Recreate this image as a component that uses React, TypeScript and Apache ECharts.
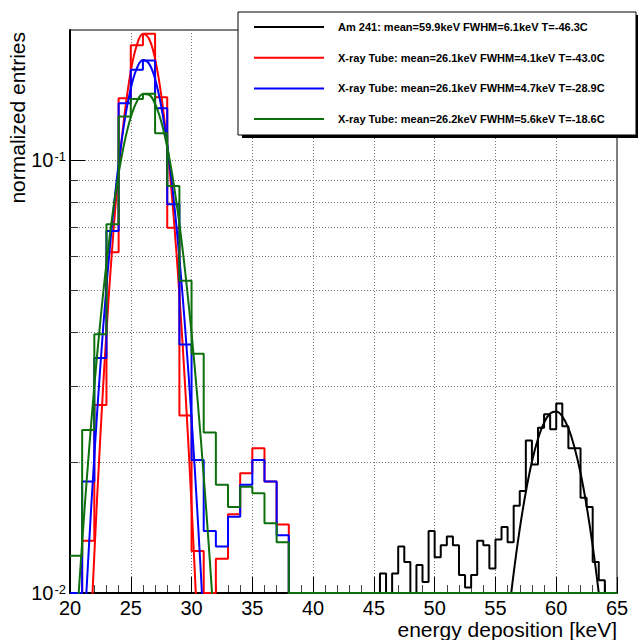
import React, { useEffect, useRef } from 'react';
import * as echarts from 'echarts';

const X_MIN = 20;
const X_MAX = 65;
const X_INTERVAL = 5;
const Y_MIN = 0.01;
const Y_MAX = 0.2;

// X-ray tube histograms: 1 keV bins starting at 20 keV (bins beyond listed values are empty)
const xrayBinStart = 20;
const xrayBinWidth = 1;
const redTube = [0, 0.0132, 0.0272, 0.0613, 0.1391, 0.1843, 0.1961, 0.1399, 0.0698, 0.0257, 0.0125, 0, 0.012, 0.0152, 0.0189, 0.0216, 0.0181, 0.0144];
const blueTube = [0, 0.0181, 0.0349, 0.0686, 0.1355, 0.1618, 0.1701, 0.1319, 0.0791, 0.0375, 0.0203, 0.0139, 0.0128, 0.015, 0.0178, 0.0203, 0.0181, 0.0136];
const greenTube = [0.0122, 0.0238, 0.0396, 0.0711, 0.1263, 0.1386, 0.1424, 0.1155, 0.0872, 0.0527, 0.0357, 0.0235, 0.0178, 0.0158, 0.0176, 0.017, 0.0145, 0.0131];

// Am 241 histogram: 0.5 keV bins starting at 45 keV
const amBinStart = 45;
const amBinWidth = 0.5;
const am241 = [0, 0.0111, 0, 0.0111, 0.0128, 0.0118, 0, 0.0116, 0.0106, 0.0139, 0.0121, 0.0129, 0.0135, 0.0129, 0.011, 0.0103, 0.011, 0.0132, 0.0129, 0.0114, 0.0133, 0.0142, 0.0131, 0.0159, 0.0172, 0.0225, 0.0198, 0.0241, 0.0259, 0.0239, 0.0274, 0.0243, 0.0216, 0.0216, 0.0166, 0.0158, 0.0118, 0.0107, 0];

// Fit curves sampled every 0.5 keV
const fitStep = 0.5;
const redFitStart = 21.5;
const redFit = [0.00597, 0.01225, 0.0231, 0.0402, 0.0643, 0.0947, 0.1285, 0.1605, 0.1847, 0.1957, 0.1909, 0.1715, 0.1418, 0.1081, 0.0758, 0.0489, 0.0291, 0.01594, 0.00804, 0.00373];
const blueFitStart = 21;
const blueFit = [0.00652, 0.01198, 0.02068, 0.03354, 0.05108, 0.07303, 0.0981, 0.1237, 0.1466, 0.1631, 0.1704, 0.1672, 0.1541, 0.1334, 0.1085, 0.0828, 0.0594, 0.04, 0.02529, 0.01503, 0.00838, 0.00439];
const greenFitStart = 20;
const greenFit = [0.00477, 0.00807, 0.01308, 0.02025, 0.03002, 0.04257, 0.05775, 0.07496, 0.0931, 0.1106, 0.1257, 0.1367, 0.1423, 0.1417, 0.1349, 0.123, 0.1072, 0.0894, 0.0714, 0.0545, 0.0398, 0.02785, 0.01862, 0.01192, 0.0073];
const amFitStart = 56;
const amFit = [0.00847, 0.01111, 0.01406, 0.01712, 0.0201, 0.02273, 0.02476, 0.02599, 0.02628, 0.0256, 0.02403, 0.02173, 0.01894, 0.01589, 0.01285, 0.01001, 0.00752];

const legendNames = [
  'Am 241: mean=59.9keV FWHM=6.1keV T=-46.3C',
  'X-ray Tube: mean=26.1keV FWHM=4.1keV T=-43.0C',
  'X-ray Tube: mean=26.1keV FWHM=4.7keV T=-28.9C',
  'X-ray Tube: mean=26.2keV FWHM=5.6keV T=-18.6C',
];
const yMinorValues = [0.02, 0.03, 0.04, 0.05, 0.06, 0.07, 0.08, 0.09];

const COLORS = ['#000000', '#ff0000', '#0000ff', '#0d700d'];
const FONT = '"Liberation Sans", Arial, Helvetica, sans-serif';

function histPoints(start: number, width: number, values: number[]) {
  const n = Math.round((X_MAX - X_MIN) / width);
  const pts: number[][] = [];
  let last = Y_MIN;
  for (let k = 0; k < n; k++) {
    const x = X_MIN + k * width;
    const idx = Math.round((x - start) / width);
    const v = idx >= 0 && idx < values.length ? values[idx] : 0;
    last = Math.max(v, Y_MIN);
    pts.push([x, last]);
  }
  pts.push([X_MAX, last]);
  return pts;
}

function fitPoints(start: number, values: number[]) {
  return values.map((v, i) => [start + i * fitStep, v]);
}

function histSeries(name: string, color: string, data: number[][]) {
  return {
    type: 'line', name, data, step: 'end', symbol: 'none', showSymbol: false, clip: true, silent: true,
    lineStyle: { color, width: 2 }, itemStyle: { color },
  };
}
function fitSeries(name: string, color: string, data: number[][]) {
  return {
    type: 'line', name, data, smooth: 0.4, symbol: 'none', showSymbol: false, clip: true, silent: true,
    lineStyle: { color, width: 2 }, itemStyle: { color },
  };
}

export default function App() {
  const ref = useRef<HTMLDivElement>(null);
  useEffect(() => {
    document.body.style.margin = '0';
    if (!ref.current) return;
    const chart = echarts.init(ref.current, undefined, { renderer: 'svg' });
    const gridLeft = 70, gridRight = 21, gridTop = 30, gridBottom = 47;
    const plotW = 638 - gridLeft - gridRight;
    const tickLenX = (8 * (X_MAX - X_MIN)) / plotW;

    const option: any = {
      animation: false,
      backgroundColor: '#ffffff',
      grid: { left: gridLeft, right: gridRight, top: gridTop, bottom: gridBottom, show: true, borderColor: '#000', borderWidth: 1, containLabel: false },
      xAxis: {
        type: 'value', min: X_MIN, max: X_MAX, interval: X_INTERVAL,
        axisLine: { show: true, onZero: false, lineStyle: { color: '#000', width: 2 } },
        axisTick: { show: true, inside: true, length: 16, lineStyle: { color: '#000', width: 1 } },
        minorTick: { show: true, splitNumber: 5, length: 8, lineStyle: { color: '#444', width: 1 } },
        axisLabel: { fontSize: 20, fontFamily: FONT, color: '#000', margin: 5 },
        splitLine: { show: true, lineStyle: { color: '#777', type: [1, 2], width: 1 } },
      },
      yAxis: {
        type: 'log', logBase: 10, min: Y_MIN, max: Y_MAX,
        axisLine: { show: true, lineStyle: { color: '#000', width: 2 } },
        axisTick: { show: true, inside: true, length: 15, lineStyle: { color: '#000', width: 1 } },
        axisLabel: {
          margin: 4, showMaxLabel: false,
          formatter: (v: number) => {
            const e = Math.log10(v);
            const r = Math.round(e);
            if (Math.abs(e - r) > 1e-6) return '';
            return `{b|10}{s|${r}}`;
          },
          rich: {
            b: { fontSize: 20, fontFamily: FONT, color: '#000' },
            s: { fontSize: 13, fontFamily: FONT, color: '#000', verticalAlign: 'top', padding: [0, 0, 0, 1] },
          },
        },
        splitLine: { show: true, lineStyle: { color: '#777', type: [1, 2], width: 1 } },
      },
      legend: {
        data: legendNames, orient: 'vertical', left: 254, top: 20, padding: 0, itemGap: 16.7,
        itemWidth: 70, itemHeight: 2, icon: 'rect', selectedMode: false, z: 20,
        textStyle: { fontSize: 11, fontWeight: 'bold', fontFamily: FONT, color: '#000', lineHeight: 14, padding: [0, 0, 0, 9] },
      },
      graphic: [
        { type: 'rect', z: 10, silent: true, shape: { x: 242, y: 15, width: 398, height: 123 }, style: { fill: '#000' } },
        { type: 'rect', z: 11, silent: true, shape: { x: 238, y: 12, width: 398, height: 123 }, style: { fill: '#fff', stroke: '#000', lineWidth: 1 } },
        { type: 'text', z: 12, x: 617, y: 629, silent: true, style: { text: 'energy deposition [keV]', font: `21px ${FONT}`, fill: '#000', align: 'right', verticalAlign: 'middle' } },
        { type: 'text', z: 12, x: 17, y: 32, rotation: Math.PI / 2, silent: true, style: { text: 'normalized entries', font: `21px ${FONT}`, fill: '#000', align: 'right', verticalAlign: 'middle' } },
      ],
      series: [
        {
          type: 'line', name: '_grid', data: [[X_MIN, Y_MIN]], symbol: 'none', silent: true, z: 1,
          lineStyle: { width: 0 },
          markLine: {
            z: 1, silent: true, symbol: ['none', 'none'], label: { show: false }, animation: false,
            lineStyle: { color: '#777', type: [1, 2], width: 1 },
            emphasis: { disabled: true },
            data: [
              ...yMinorValues.map((v) => ({ yAxis: v })),
              ...yMinorValues.map((v) => [
                { coord: [X_MIN, v], lineStyle: { color: '#333', type: 'solid', width: 1 } },
                { coord: [X_MIN + tickLenX, v] },
              ]),
            ],
          },
        },
        histSeries(legendNames[0], COLORS[0], histPoints(amBinStart, amBinWidth, am241)),
        fitSeries('fit0', COLORS[0], fitPoints(amFitStart, amFit)),
        histSeries(legendNames[1], COLORS[1], histPoints(xrayBinStart, xrayBinWidth, redTube)),
        fitSeries('fit1', COLORS[1], fitPoints(redFitStart, redFit)),
        histSeries(legendNames[2], COLORS[2], histPoints(xrayBinStart, xrayBinWidth, blueTube)),
        fitSeries('fit2', COLORS[2], fitPoints(blueFitStart, blueFit)),
        histSeries(legendNames[3], COLORS[3], histPoints(xrayBinStart, xrayBinWidth, greenTube)),
        fitSeries('fit3', COLORS[3], fitPoints(greenFitStart, greenFit)),
      ],
    };
    chart.setOption(option);
    return () => chart.dispose();
  }, []);
  return <div ref={ref} style={{ width: 638, height: 640, position: 'absolute', left: 0, top: 0 }} />;
}
